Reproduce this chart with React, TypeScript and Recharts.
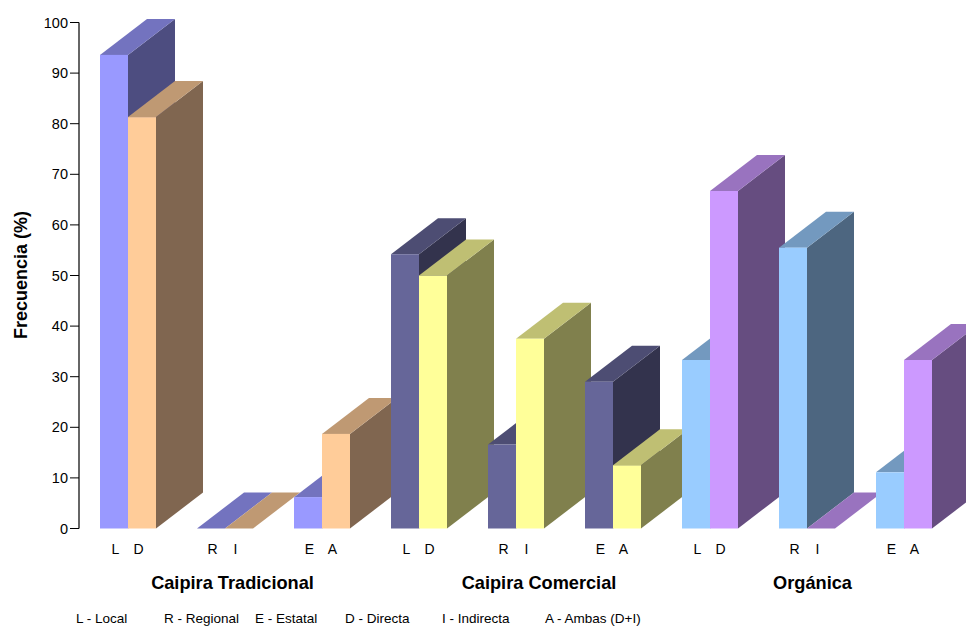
import React from "react";
import { BarChart, Bar, XAxis, YAxis } from "recharts";

// One pair of labels per category: first letter sits under the left box, second under the right box.
const categories = ["L D", "R I", "E A", "L D", "R I", "E A", "L D", "R I", "E A"];
const firstValues = [93.6, 0, 6.2, 54.2, 16.6, 29, 33.3, 55.5, 11.1];
const secondValues = [81.3, 0, 18.7, 50, 37.5, 12.5, 66.7, 0, 33.3];
const yTicks = [0, 10, 20, 30, 40, 50, 60, 70, 80, 90, 100];

const groupTitles = [
  { text: "Caipira Tradicional", x: 232.5 },
  { text: "Caipira Comercial", x: 539 },
  { text: "Orgánica", x: 812.5 },
];
const legendEntries = [
  { text: "L - Local", x: 76 },
  { text: "R - Regional", x: 164 },
  { text: "E - Estatal", x: 255 },
  { text: "D - Directa", x: 345 },
  { text: "I - Indirecta", x: 442 },
  { text: "A - Ambas (D+I)", x: 545 },
];

type Shade = { front: string; top: string; side: string };
// Shades per farming system (three categories each): first box, second box.
const palette: Shade[][] = [
  [
    { front: "#9999FF", top: "#7373BF", side: "#4D4D80" },
    { front: "#FFCC99", top: "#BF9973", side: "#806650" },
  ],
  [
    { front: "#666699", top: "#4D4D73", side: "#33334D" },
    { front: "#FFFF99", top: "#BFBF73", side: "#80804D" },
  ],
  [
    { front: "#99CCFF", top: "#7399BF", side: "#4D6680" },
    { front: "#CC99FF", top: "#9973BF", side: "#664D80" },
  ],
];

const DEPTH_X = 47;
const DEPTH_Y = 36;
const FONT = "'Liberation Sans', Arial, sans-serif";

const rows = categories.map((category, i) => ({
  slot: i,
  category,
  first: firstValues[i],
  second: secondValues[i],
}));

// Extruded box: front face plus the slanted top and right faces.
function Box3D(props: any) {
  const { x, y, width, height, shade } = props;
  const r = x + width;
  const b = y + height;
  const dx = DEPTH_X;
  const dy = DEPTH_Y;
  return (
    <g>
      <polygon points={`${r},${y} ${r + dx},${y - dy} ${r + dx},${b - dy} ${r},${b}`} fill={shade.side} />
      <polygon points={`${x},${y} ${x + dx},${y - dy} ${r + dx},${y - dy} ${r},${y}`} fill={shade.top} />
      {height > 0 && <rect x={x} y={y} width={width} height={height} fill={shade.front} />}
    </g>
  );
}

// Draws two letters for each category, offset to sit beneath their boxes.
function PairTick(props: any) {
  const { x, y, payload } = props;
  const [a, b] = String(payload.value).split(" ");
  const style = { fontFamily: FONT, fontSize: 14, fill: "#000" };
  return (
    <g>
      <text x={x - 12} y={y + 17.5} textAnchor="middle" style={style}>{a}</text>
      <text x={x + 11} y={y + 17.5} textAnchor="middle" style={style}>{b}</text>
    </g>
  );
}

// One Bar per box, painted left to right so each box covers the side face of its left neighbour.
// Each Bar only contributes a value in its own category; the shared stacks keep the side-by-side slots.
function boxBars() {
  return categories.flatMap((_, i) => {
    const shades = palette[Math.floor(i / 3)];
    return (["first", "second"] as const).map((key, k) => (
      <Bar
        key={`${key}-${i}`}
        dataKey={(row: any) => (row.slot === i ? row[key] : 0)}
        stackId={key}
        isAnimationActive={false}
        shape={(p: any) => (p.index === i ? <Box3D {...p} shade={shades[k]} /> : <g />)}
      />
    ));
  });
}

export default function App() {
  return (
    <div style={{ position: "absolute", left: 0, top: 0, width: 966, height: 626, overflow: "hidden", background: "#fff" }}>
      <BarChart
        width={966}
        height={626}
        data={rows}
        margin={{ top: 22.5, right: 14, bottom: 67.5, left: 9 }}
        barCategoryGap={21}
        barGap={0}
      >
        <YAxis
          type="number"
          domain={[0, 100]}
          ticks={yTicks}
          width={70}
          interval={0}
          axisLine={{ stroke: "#666666", strokeWidth: 2 }}
          tickLine={{ stroke: "#000000" }}
          tickSize={9}
          tickMargin={2}
          tick={{ fontFamily: FONT, fontSize: 14.5, fill: "#000" }}
        />
        <XAxis
          dataKey="category"
          height={30}
          interval={0}
          axisLine={false}
          tickLine={false}
          tick={<PairTick />}
        />
        {boxBars()}
        <text
          x={21}
          y={275}
          transform="rotate(-90 21 275)"
          textAnchor="middle"
          dominantBaseline="central"
          style={{ fontFamily: FONT, fontSize: 18, fontWeight: 700, fill: "#000" }}
        >
          Frecuencia (%)
        </text>
        {groupTitles.map((g) => (
          <text
            key={g.text}
            x={g.x}
            y={589}
            textAnchor="middle"
            style={{ fontFamily: FONT, fontSize: 18.2, fontWeight: 700, fill: "#000" }}
          >
            {g.text}
          </text>
        ))}
        {legendEntries.map((l) => (
          <text key={l.text} x={l.x} y={622.5} style={{ fontFamily: FONT, fontSize: 13.5, fill: "#000" }}>
            {l.text}
          </text>
        ))}
      </BarChart>
    </div>
  );
}
